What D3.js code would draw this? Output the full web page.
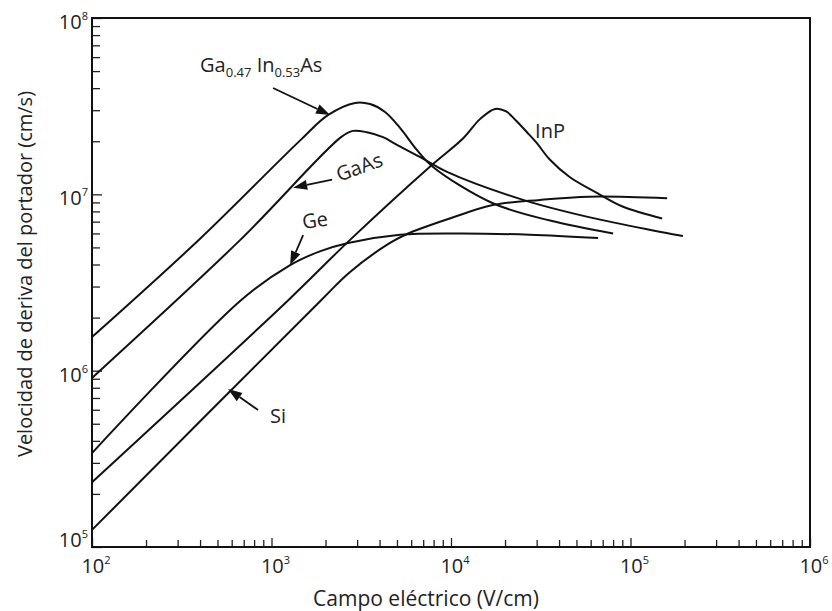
<!DOCTYPE html>
<html>
<head>
<meta charset="utf-8">
<script src="https://cdn.jsdelivr.net/npm/d3@7"></script>
<style>
body { margin: 0; background: #fff; }
text { font-family: "Open Sans", sans-serif; fill: #222; }
</style>
</head>
<body>
<div id="chart"></div>
<script>
// campo electrico (V/cm), velocidad (cm/s)
const gaInAs = [[100,1.55e6],[400,5.6e6],[1450,2.03e7],[2070,2.82e7],[2920,3.3e7],[3540,3.25e7],[4290,2.93e7],[5200,2.38e7],[6470,1.78e7],[7940,1.43e7],[17100,8.9e6],[35600,7.1e6],[80000,6.0e6]];
const gaAs = [[100,9.1e5],[668,5.5e6],[2440,2.11e7],[2840,2.29e7],[3400,2.25e7],[4180,2.11e7],[5000,1.91e7],[6700,1.63e7],[9500,1.34e7],[25200,9.3e6],[59400,7.4e6],[196000,5.8e6]];
const ge = [[100,3.41e5],[676,2.51e6],[1270,3.97e6],[1860,4.75e6],[2670,5.3e6],[5200,5.9e6],[11200,6.0e6],[27500,5.9e6],[66000,5.65e6]];
const inP = [[100,2.33e5],[1240,2.51e6],[2730,5.5e6],[7600,1.43e7],[11700,2.08e7],[14500,2.67e7],[17600,3.05e7],[20300,2.95e7],[23000,2.62e7],[26500,2.25e7],[30100,1.95e7],[35600,1.57e7],[46000,1.25e7],[65000,1.02e7],[91000,8.5e6],[150000,7.3e6]];
const si = [[100,1.25e5],[1890,2.51e6],[2730,3.62e6],[4570,5.3e6],[5690,5.96e6],[9860,7.3e6],[17100,8.7e6],[31300,9.3e6],[59000,9.7e6],[160000,9.5e6]];

const xDecades = [2,3,4,5,6];
const yDecades = [5,6,7,8];

const width = 832, height = 611;
const mLeft = 92, mRight = 810, mTop = 18, mBottom = 547;

const svg = d3.select('#chart')
              .append('svg')
              .attr('width', width)
              .attr('height', height);

let x = d3.scaleLog().domain([1e2,1e6]).range([mLeft,mRight]);
let y = d3.scaleLog().domain([1e5,1e8]).range([mBottom,mTop]);

// tick values: every 1..9 per decade
let xTicks = [], yTicks = [];
xDecades.forEach(d=>{ for(let m=1;m<10;m++){ if(m*Math.pow(10,d)<=1e6) xTicks.push(m*Math.pow(10,d)); } });
yDecades.forEach(d=>{ for(let m=1;m<10;m++){ if(m*Math.pow(10,d)<=1e8) yTicks.push(m*Math.pow(10,d)); } });
const isMajor = v => Math.abs(Math.log10(v) - Math.round(Math.log10(v))) < 1e-9;

let xAxis = d3.axisBottom(x).tickValues(xTicks).tickSize(-7).tickFormat('');
let yAxis = d3.axisLeft(y).tickValues(yTicks).tickSize(-8).tickFormat('');

let xg = svg.append('g').attr('transform','translate(0,'+mBottom+')').call(xAxis);
let yg = svg.append('g').attr('transform','translate('+mLeft+',0)').call(yAxis);
xg.select('.domain').remove();
yg.select('.domain').remove();
xg.selectAll('.tick line').attr('stroke','#222').attr('stroke-width',1.3)
  .attr('y2', d=> isMajor(d) ? -9 : -7);
yg.selectAll('.tick line').attr('stroke','#222').attr('stroke-width',1.3)
  .attr('x2', d=> isMajor(d) ? 10 : 8);

// frame
svg.append('rect')
   .attr('x',mLeft).attr('y',mTop)
   .attr('width',mRight-mLeft).attr('height',mBottom-mTop)
   .attr('fill','none').attr('stroke','#111').attr('stroke-width',2);

// tick labels 10^n
xDecades.forEach(d=>{
    let t = svg.append('text')
       .attr('x', x(Math.pow(10,d))+4)
       .attr('y', mBottom+26)
       .attr('text-anchor','middle')
       .style('font-size','20px');
    t.append('tspan').text('10');
    t.append('tspan').attr('dy',-9).style('font-size','11px').text(d);
});
yDecades.forEach(d=>{
    let off = d==5 ? 0 : 11;
    let t = svg.append('text')
       .attr('x', mLeft-4)
       .attr('y', y(Math.pow(10,d))+off)
       .attr('text-anchor','end')
       .style('font-size','20px');
    t.append('tspan').text('10');
    t.append('tspan').attr('dy',-9).style('font-size','11px').text(d);
});

// axis titles
svg.append('text')
   .attr('x', 426).attr('y', 606)
   .attr('text-anchor','middle')
   .style('font-size','21px')
   .text('Campo eléctrico (V/cm)');

svg.append('text')
   .attr('transform','translate(32,274) rotate(-90)')
   .attr('text-anchor','middle')
   .style('font-size','20px')
   .text('Velocidad de deriva del portador (cm/s)');

// curves
let line = d3.line()
             .x(d=>x(d[0]))
             .y(d=>y(d[1]))
             .curve(d3.curveCatmullRom.alpha(0.5));

[gaInAs, gaAs, ge, inP, si].forEach(s=>{
    svg.append('path')
       .datum(s)
       .attr('d', line)
       .attr('fill','none')
       .attr('stroke','#111')
       .attr('stroke-width',2);
});

// arrows pointing at the curves
function arrow(tip, dx, dy){
    let tx = x(tip[0]), ty = y(tip[1]);
    let sx = tx+dx, sy = ty+dy;
    let len = Math.sqrt(dx*dx+dy*dy);
    let ux = -dx/len, uy = -dy/len;
    let hl = 14, hw = 5;
    let bx = tx-ux*hl, by = ty-uy*hl;
    svg.append('line')
       .attr('x1',sx).attr('y1',sy).attr('x2',bx).attr('y2',by)
       .attr('stroke','#111').attr('stroke-width',1.8);
    svg.append('path')
       .attr('d','M'+tx+','+ty+'L'+(bx-uy*hw)+','+(by+ux*hw)+'L'+(bx+uy*hw)+','+(by-ux*hw)+'Z')
       .attr('fill','#111');
    return [tx,ty];
}

let p1 = arrow([2120,2.82e7], -57, -27);
let lab1 = svg.append('text')
   .attr('x', p1[0]-130).attr('y', p1[1]-43)
   .style('font-size','20px');
lab1.append('tspan').text('Ga');
lab1.append('tspan').attr('dy',5).style('font-size','13px').text('0.47');
lab1.append('tspan').attr('dy',-5).text(' In');
lab1.append('tspan').attr('dy',5).style('font-size','13px').text('0.53');
lab1.append('tspan').attr('dy',-5).text('As');

let p2 = arrow([1320,1.09e7], 39, -8);
svg.append('text')
   .attr('transform','translate('+(p2[0]+46)+','+(p2[1]-6)+') rotate(-20)')
   .style('font-size','20px')
   .text('GaAs');

let p3 = arrow([1270,3.97e6], 13, -30);
svg.append('text')
   .attr('transform','translate('+(p3[0]+13)+','+(p3[1]-36)+') rotate(-8)')
   .style('font-size','20px')
   .text('Ge');

let p4 = arrow([573,7.87e5], 30, 21);
svg.append('text')
   .attr('x', p4[0]+42).attr('y', p4[1]+34)
   .style('font-size','20px')
   .text('Si');

svg.append('text')
   .attr('x', x(29400)).attr('y', y(2.08e7))
   .style('font-size','20px')
   .text('InP');
</script>
</body>
</html>
